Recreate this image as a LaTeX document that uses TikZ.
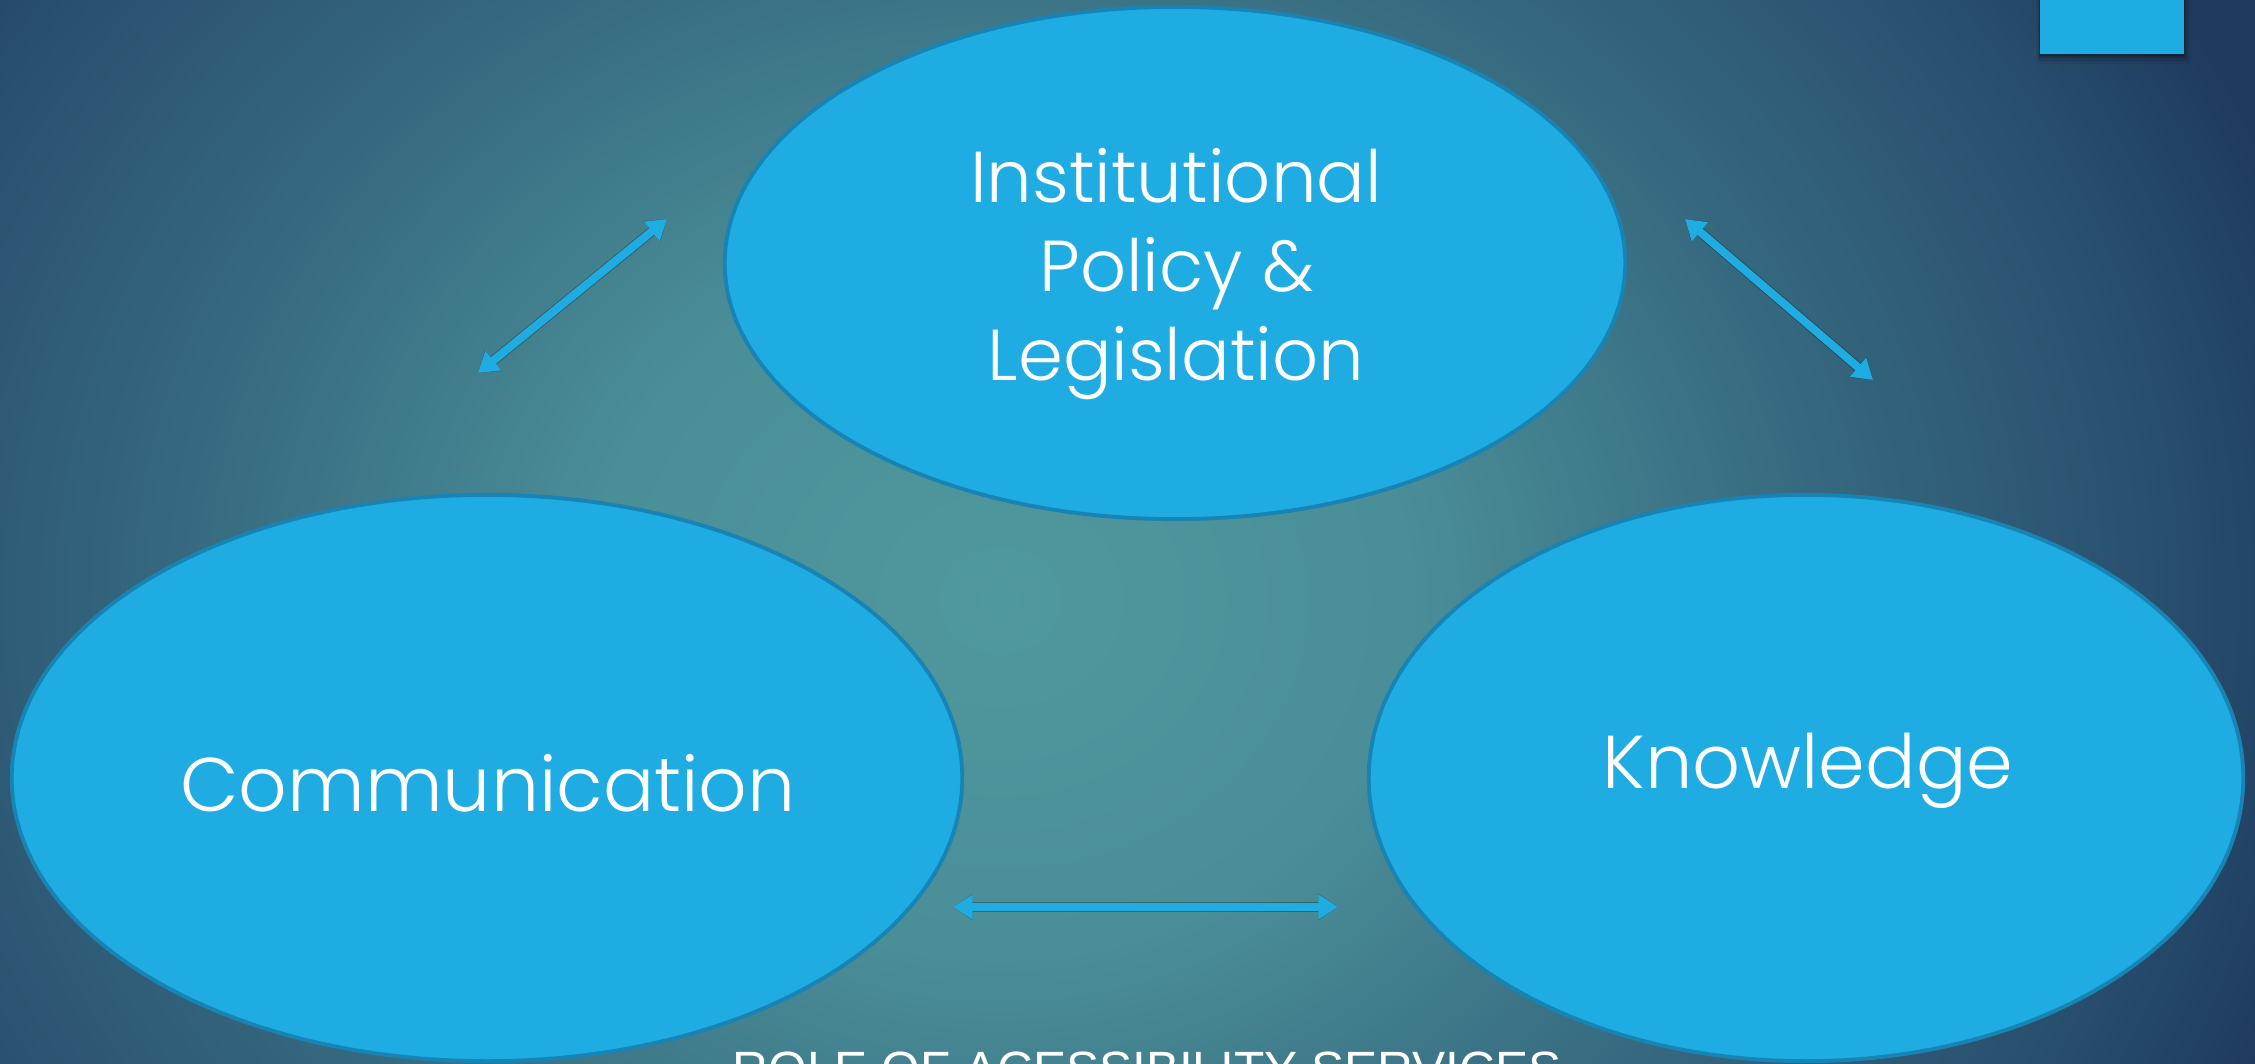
\documentclass[tikz,border=0pt]{standalone}
\usepackage{fontspec}
\setmainfont{Liberation Sans}
\newfontfamily\gothic{Poppins Light}
\usetikzlibrary{shapes.geometric,arrows.meta}

\definecolor{bubble}{HTML}{1FACE3}
\definecolor{bubbleedge}{HTML}{1784B3}
\definecolor{glowA}{HTML}{4F989D}
\definecolor{glowB}{HTML}{4A8E98}
\definecolor{glowC}{HTML}{36697F}
\definecolor{glowD}{HTML}{29506F}
\definecolor{glowE}{HTML}{1E3A5E}

% glow reaches its outer colour at 25bp
\pgfdeclareradialshading{backglow}{\pgfpoint{0bp}{0bp}}{%
  color(0bp)=(glowA); color(7.5bp)=(glowB); color(15bp)=(glowC);
  color(21bp)=(glowD); color(25bp)=(glowE); color(50bp)=(glowE)}

\begin{document}
\begin{tikzpicture}[x=0.01cm, y=-0.01cm,
  bubblenode/.style={ellipse, draw=bubbleedge, line width=1.1pt,
    fill=bubble, inner sep=0pt, outer sep=0pt},
  bubbletext/.style={text=white, inner sep=0pt, anchor=base,
    font=\gothic\fontsize{20.5pt}{25pt}\selectfont},
  twoway/.style={draw=bubble, line width=2.3pt,
    {Triangle[length=5.6pt,width=6.8pt]}-{Triangle[length=5.6pt,width=6.8pt]}},
  twowayshadow/.style={draw=black, opacity=0.28, line width=2.8pt,
    {Triangle[length=5.6pt,width=7.2pt]}-{Triangle[length=5.6pt,width=7.2pt]}}]

  \useasboundingbox (0,0) rectangle (2255,1063);
  \clip (0,0) rectangle (2255,1063);

  % background glow, brightest a little left of the middle
  \fill[glowE] (0,0) rectangle (2255,1063);
  \node[inner sep=0pt, outer sep=0pt, transform shape, xscale=15.5, yscale=13.5]
    (glow) at (1000,600) {\pgfuseshading{backglow}};

  % small tab in the corner, with its soft shadow
  \foreach \s/\o in {10/0.06, 7/0.10, 4/0.16, 2/0.22}
    \fill[black, opacity=\o] (2040-\s*0.3,0) rectangle (2184+\s*0.6,54+\s);
  \fill[bubble] (2040,0) rectangle (2184,54);

  % the three bubbles
  \node[bubblenode, minimum width=9cm, minimum height=5.12cm] (policy) at (1175,263) {};
  \node[bubblenode, minimum width=9.5cm, minimum height=5.66cm] (comm) at (487,778) {};
  \node[bubblenode, minimum width=8.74cm, minimum height=5.66cm] (know) at (1806,778) {};

  % bubble labels
  \node[bubbletext] (policyA) at (1176,202) {Institutional};
  \node[bubbletext] (policyB) at (1177,291) {Policy \&};
  \node[bubbletext] (policyC) at (1176,380) {Legislation};
  \node[bubbletext, font=\gothic\fontsize{21.6pt}{27pt}\selectfont] (commT) at (488,811) {Communication};
  \node[bubbletext, font=\gothic\fontsize{21.3pt}{25pt}\selectfont] (knowT) at (1808,788) {Knowledge};

  % ends of the two-way arrows
  \coordinate (lpA) at (478,373);
  \coordinate (lpB) at (667,219);
  \coordinate (rpA) at (1685,219);
  \coordinate (rpB) at (1873,380);
  \coordinate (bmA) at (953,907);
  \coordinate (bmB) at (1338,907);

  \begin{scope}[shift={(2,3)}]
    \draw[twowayshadow] (lpA) -- (lpB);
    \draw[twowayshadow] (rpA) -- (rpB);
    \draw[twowayshadow] (bmA) -- (bmB);
  \end{scope}
  \draw[twoway] (lpA) -- (lpB);
  \draw[twoway] (rpA) -- (rpB);
  \draw[twoway] (bmA) -- (bmB);

  % caption, running off the lower edge
  \node[text=white, inner sep=0pt, anchor=base,
    font=\fontsize{14.1pt}{17pt}\selectfont] (caption) at (1147,1086)
    {ROLE OF ACESSIBILITY SERVICES};
\end{tikzpicture}
\end{document}
